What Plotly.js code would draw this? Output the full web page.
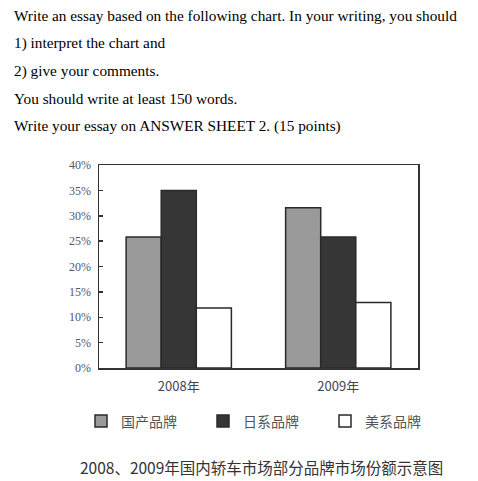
<!DOCTYPE html>
<html>
<head>
<meta charset="utf-8">
<script src="https://cdn.plot.ly/plotly-3.0.1.min.js"></script>
<style>
html,body{margin:0;padding:0;background:#fff;}
#chart{width:478px;height:481px;}
</style>
</head>
<body>
<div id="chart"></div>
<script>
var years = ['2008年', '2009年'];
var seriesNames = ['国产品牌', '日系品牌', '美系品牌'];
var domestic = [25.8, 31.6];
var japanese = [35.0, 25.8];
var american = [11.8, 12.9];
var yTicks = [0, 5, 10, 15, 20, 25, 30, 35, 40];
var introLines = [
  'Write an essay based on the following chart. In your writing, you should',
  '1) interpret the chart and',
  '2) give your comments.',
  'You should write at least 150 words.',
  'Write your essay on ANSWER SHEET 2. (15 points)'
];
var caption = '2008、2009年国内轿车市场部分品牌市场份额示意图';

var W = 478, H = 481;
var M = {l: 99, r: 60, t: 165, b: 113};
var PW = W - M.l - M.r, PH = H - M.t - M.b;
function px(x) { return (x - M.l) / PW; }
function py(y) { return (H - M.b - y) / PH; }

var fills = ['#9a9a9a', '#363636', '#ffffff'];
var vals = [domestic, japanese, american];
var legendIds = ['legend', 'legend2', 'legend3'];
var traces = vals.map(function (v, i) {
  return {
    type: 'bar', x: years, y: v, name: seriesNames[i],
    legend: legendIds[i],
    marker: {color: fills[i], line: {color: '#2a2a2a', width: 1.5}},
    hoverinfo: 'skip'
  };
});

var annotations = introLines.map(function (t, i) {
  return {
    text: t, xref: 'paper', yref: 'paper', x: px(12), y: py(16 + i * 27.4),
    xanchor: 'left', yanchor: 'middle', showarrow: false,
    font: {family: 'Liberation Serif, Times New Roman, serif', size: 15.3, color: '#000'}
  };
});
annotations.push({
  text: caption, xref: 'paper', yref: 'paper', x: px(261), y: py(467),
  xanchor: 'center', yanchor: 'middle', showarrow: false,
  font: {family: 'Noto Sans CJK SC, sans-serif', size: 15.5, color: '#333'}
});

var legendX = [81, 203, 325];
function legendAt(xp) {
  return {
    orientation: 'h', x: px(xp), xanchor: 'left', y: py(421.5), yanchor: 'middle',
    font: {family: 'Noto Sans CJK SC, sans-serif', size: 14, color: '#555'},
    bgcolor: 'rgba(0,0,0,0)', itemclick: false, borderwidth: 0
  };
}

var layout = {
  width: W, height: H,
  margin: M,
  paper_bgcolor: '#fff', plot_bgcolor: '#fff',
  barmode: 'group', bargap: 0.34, bargroupgap: 0,
  showlegend: true,
  legend: legendAt(legendX[0]),
  legend2: legendAt(legendX[1]),
  legend3: legendAt(legendX[2]),
  xaxis: {
    type: 'category', showgrid: false, zeroline: false,
    showline: true, linecolor: '#333', linewidth: 1.5, mirror: true,
    ticks: '', ticklabelstandoff: 6,
    tickfont: {family: 'Noto Sans CJK SC, sans-serif', size: 13, color: '#445'}
  },
  yaxis: {
    range: [0, 40], tickvals: yTicks, ticktext: yTicks.map(function (t) { return t + '%'; }),
    showgrid: false, zeroline: false,
    showline: true, linecolor: '#333', linewidth: 1.5, mirror: true,
    ticks: 'inside', ticklen: 4, tickcolor: '#333', tickwidth: 1.5,
    ticklabelstandoff: 4,
    tickfont: {family: 'Liberation Serif, serif', size: 12, color: '#556'}
  },
  annotations: annotations
};

Plotly.newPlot('chart', traces, layout, {displayModeBar: false, staticPlot: true});
</script>
</body>
</html>
